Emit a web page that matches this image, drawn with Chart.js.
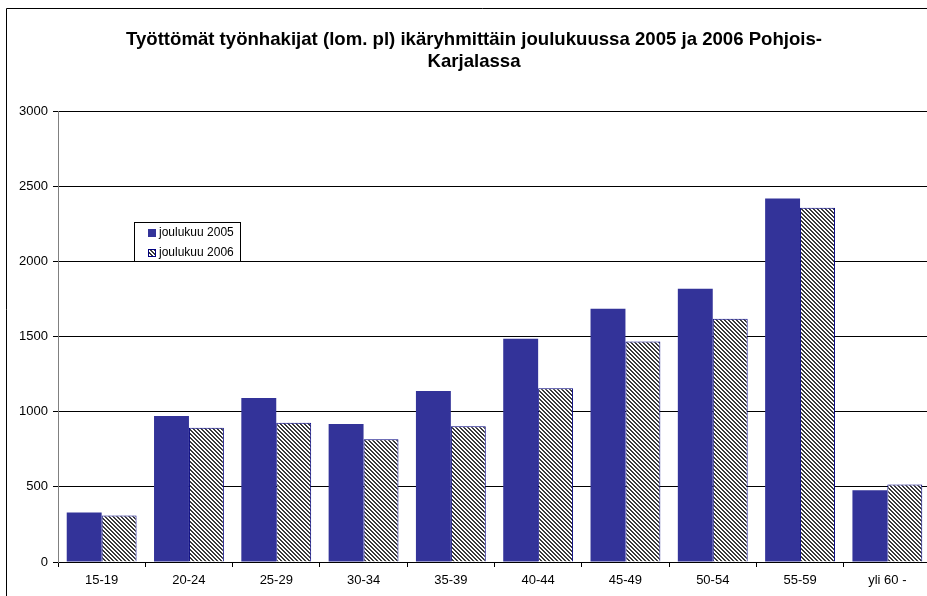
<!DOCTYPE html>
<html>
<head>
<meta charset="utf-8">
<script src="https://cdn.jsdelivr.net/npm/chart.js@4/dist/chart.umd.min.js"></script>
<style>
html,body{margin:0;padding:0;overflow:hidden;background:#fff;width:927px;height:596px;}
#clip{position:absolute;left:0;top:0;width:927px;height:596px;overflow:hidden;}
#wrap{position:absolute;left:0;top:0;width:960px;height:610px;}
</style>
</head>
<body>
<div id="clip"><div id="wrap"><canvas id="c" width="960" height="610"></canvas></div></div>
<script>
const categories = ['15-19','20-24','25-29','30-34','35-39','40-44','45-49','50-54','55-59','yli 60 -'];
const values2005 = [329, 971, 1091, 918, 1138, 1485, 1684, 1818, 2418, 478];
const values2006 = [309, 893, 927, 816, 903, 1156, 1467, 1618, 2356, 516];
const seriesLabels = ['joulukuu 2005', 'joulukuu 2006'];
const titleLines = ['Työttömät työnhakijat (lom. pl) ikäryhmittäin joulukuussa 2005 ja 2006 Pohjois-', 'Karjalassa'];
const yMin = 0, yMax = 3000, yStep = 500;

const FONT = "'Liberation Sans', Arial, sans-serif";

function makeHatch() {
  const p = document.createElement('canvas');
  p.width = 4; p.height = 4;
  const g = p.getContext('2d');
  g.fillStyle = '#ffffff';
  g.fillRect(0, 0, 4, 4);
  g.fillStyle = '#3a3a3a';
  for (let y = 0; y < 4; y++) {
    for (let x = 0; x < 4; x++) {
      const d = ((x - y) % 4 + 4) % 4;
      if (d === 0 || d === 1) g.fillRect(x, y, 1, 1);
    }
  }
  return document.getElementById('c').getContext('2d').createPattern(p, 'repeat');
}
const hatch = makeHatch();

const frameTitleLegend = {
  id: 'frameTitleLegend',
  afterDraw(chart) {
    const ctx = chart.ctx;
    ctx.save();
    // outer chart frame: only its left and top edges fall inside the picture
    ctx.strokeStyle = '#000';
    ctx.lineWidth = 1;
    ctx.beginPath();
    ctx.moveTo(6.5, 700);
    ctx.lineTo(6.5, 8.5);
    ctx.lineTo(958, 8.5);
    ctx.stroke();
    // title
    ctx.fillStyle = '#000';
    ctx.font = 'bold 18.6px ' + FONT;
    ctx.textAlign = 'center';
    ctx.textBaseline = 'alphabetic';
    ctx.fillText(titleLines[0], 474, 45);
    ctx.fillText(titleLines[1], 474, 67);
    // legend
    const lx = 134.5, ly = 222.5, lw = 106, lh = 39;
    ctx.fillStyle = '#fff';
    ctx.fillRect(lx, ly, lw, lh);
    ctx.strokeStyle = '#000';
    ctx.strokeRect(lx, ly, lw, lh);
    const ds = chart.data.datasets;
    const rows = [233, 253];
    ctx.font = '12px ' + FONT;
    ctx.textAlign = 'left';
    ctx.textBaseline = 'middle';
    ds.forEach((d, i) => {
      const cy = rows[i];
      ctx.fillStyle = d.backgroundColor;
      ctx.fillRect(148, cy - 4, 8, 8);
      if (d.borderWidth) {
        ctx.strokeStyle = d.borderColor;
        ctx.strokeRect(148.5, cy - 3.5, 7, 7);
      }
      ctx.fillStyle = '#000';
      ctx.fillText(d.label, 159, cy);
    });
    ctx.restore();
  }
};

new Chart(document.getElementById('c'), {
  type: 'bar',
  data: {
    labels: categories,
    datasets: [
      { label: seriesLabels[0], data: values2005, backgroundColor: '#333399', borderWidth: 0 },
      { label: seriesLabels[1], data: values2006, backgroundColor: hatch, borderColor: '#000080', borderWidth: 1 }
    ]
  },
  options: {
    responsive: false,
    animation: false,
    devicePixelRatio: 1,
    layout: { padding: { top: 111, right: 29, bottom: 0, left: 0 } },
    datasets: { bar: { categoryPercentage: 0.8, barPercentage: 1.0 } },
    plugins: { legend: { display: false }, title: { display: false }, tooltip: { enabled: false } },
    scales: {
      x: {
        afterFit(s) { s.height = 48; },
        grid: { offset: true, drawOnChartArea: false, drawTicks: true, tickLength: 5, color: '#000' },
        border: { color: '#000', width: 1 },
        ticks: { color: '#000', font: { family: FONT, size: 13 }, padding: 6, maxRotation: 0, autoSkip: false }
      },
      y: {
        min: yMin, max: yMax,
        afterFit(s) { s.width = 58; },
        grid: { color: '#000', lineWidth: 1, tickLength: 5, drawTicks: true },
        border: { color: '#808080', width: 1 },
        ticks: { stepSize: yStep, color: '#000', font: { family: FONT, size: 13 }, padding: 5,
                 callback: (v) => String(v) }
      }
    }
  },
  plugins: [frameTitleLegend]
});
</script>
</body>
</html>
